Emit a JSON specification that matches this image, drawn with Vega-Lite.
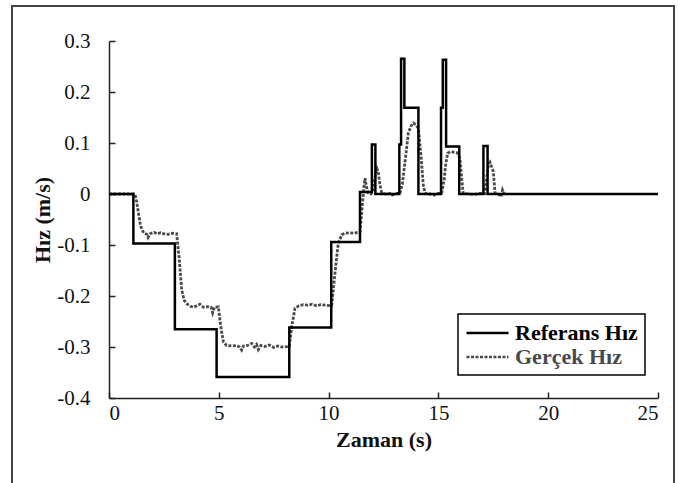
{
  "$schema": "https://vega.github.io/schema/vega-lite/v6.json",
  "width": 549,
  "height": 357,
  "autosize": {"type": "none"},
  "padding": {"left": 109, "top": 41, "right": 20, "bottom": 85},
  "background": "white",
  "config": {
    "view": {"stroke": null},
    "font": "Liberation Serif",
    "axis": {
      "grid": false,
      "domainColor": "#222",
      "domainWidth": 1.5,
      "tickColor": "#222",
      "tickWidth": 1.5,
      "tickSize": -6,
      "labelFont": "Liberation Serif",
      "labelFontSize": 21,
      "labelColor": "#111",
      "titleFont": "Liberation Serif",
      "titleFontSize": 22,
      "titleFontWeight": "bold",
      "titleColor": "#111"
    }
  },
  "data": {
    "values": [
      {"s": "Referans Hız", "i": 1, "t": 0, "v": 0},
      {"s": "Referans Hız", "i": 2, "t": 1.11, "v": 0},
      {"s": "Referans Hız", "i": 3, "t": 1.11, "v": -0.097},
      {"s": "Referans Hız", "i": 4, "t": 3.0, "v": -0.097},
      {"s": "Referans Hız", "i": 5, "t": 3.0, "v": -0.265},
      {"s": "Referans Hız", "i": 6, "t": 4.9, "v": -0.265},
      {"s": "Referans Hız", "i": 7, "t": 4.9, "v": -0.359},
      {"s": "Referans Hız", "i": 8, "t": 8.21, "v": -0.359},
      {"s": "Referans Hız", "i": 9, "t": 8.21, "v": -0.262},
      {"s": "Referans Hız", "i": 10, "t": 10.12, "v": -0.262},
      {"s": "Referans Hız", "i": 11, "t": 10.12, "v": -0.094},
      {"s": "Referans Hız", "i": 12, "t": 11.43, "v": -0.094},
      {"s": "Referans Hız", "i": 13, "t": 11.43, "v": 0.004},
      {"s": "Referans Hız", "i": 14, "t": 11.97, "v": 0.004},
      {"s": "Referans Hız", "i": 15, "t": 11.97, "v": 0.097},
      {"s": "Referans Hız", "i": 16, "t": 12.13, "v": 0.097},
      {"s": "Referans Hız", "i": 17, "t": 12.13, "v": 0},
      {"s": "Referans Hız", "i": 18, "t": 13.22, "v": 0},
      {"s": "Referans Hız", "i": 19, "t": 13.22, "v": 0.097},
      {"s": "Referans Hız", "i": 20, "t": 13.3, "v": 0.097},
      {"s": "Referans Hız", "i": 21, "t": 13.3, "v": 0.265},
      {"s": "Referans Hız", "i": 22, "t": 13.45, "v": 0.265},
      {"s": "Referans Hız", "i": 23, "t": 13.45, "v": 0.169},
      {"s": "Referans Hız", "i": 24, "t": 14.09, "v": 0.169},
      {"s": "Referans Hız", "i": 25, "t": 14.09, "v": 0},
      {"s": "Referans Hız", "i": 26, "t": 15.12, "v": 0},
      {"s": "Referans Hız", "i": 27, "t": 15.12, "v": 0.169},
      {"s": "Referans Hız", "i": 28, "t": 15.2, "v": 0.169},
      {"s": "Referans Hız", "i": 29, "t": 15.2, "v": 0.263},
      {"s": "Referans Hız", "i": 30, "t": 15.35, "v": 0.263},
      {"s": "Referans Hız", "i": 31, "t": 15.35, "v": 0.093},
      {"s": "Referans Hız", "i": 32, "t": 15.95, "v": 0.093},
      {"s": "Referans Hız", "i": 33, "t": 15.95, "v": 0},
      {"s": "Referans Hız", "i": 34, "t": 17.05, "v": 0},
      {"s": "Referans Hız", "i": 35, "t": 17.05, "v": 0.094},
      {"s": "Referans Hız", "i": 36, "t": 17.24, "v": 0.094},
      {"s": "Referans Hız", "i": 37, "t": 17.24, "v": 0},
      {"s": "Referans Hız", "i": 38, "t": 25, "v": 0},

      {"s": "Gerçek Hız", "i": 1, "t": 0, "v": 0},
      {"s": "Gerçek Hız", "i": 2, "t": 1.18, "v": 0},
      {"s": "Gerçek Hız", "i": 3, "t": 1.26, "v": -0.015},
      {"s": "Gerçek Hız", "i": 4, "t": 1.34, "v": -0.037},
      {"s": "Gerçek Hız", "i": 5, "t": 1.42, "v": -0.058},
      {"s": "Gerçek Hız", "i": 6, "t": 1.49, "v": -0.07},
      {"s": "Gerçek Hız", "i": 7, "t": 1.6, "v": -0.077},
      {"s": "Gerçek Hız", "i": 8, "t": 1.72, "v": -0.079},
      {"s": "Gerçek Hız", "i": 9, "t": 1.78, "v": -0.085},
      {"s": "Gerçek Hız", "i": 10, "t": 1.86, "v": -0.078},
      {"s": "Gerçek Hız", "i": 11, "t": 2.05, "v": -0.075},
      {"s": "Gerçek Hız", "i": 12, "t": 2.2, "v": -0.078},
      {"s": "Gerçek Hız", "i": 13, "t": 2.35, "v": -0.076},
      {"s": "Gerçek Hız", "i": 14, "t": 2.5, "v": -0.078},
      {"s": "Gerçek Hız", "i": 15, "t": 2.7, "v": -0.079},
      {"s": "Gerçek Hız", "i": 16, "t": 2.9, "v": -0.077},
      {"s": "Gerçek Hız", "i": 17, "t": 3.08, "v": -0.078},
      {"s": "Gerçek Hız", "i": 18, "t": 3.19, "v": -0.123},
      {"s": "Gerçek Hız", "i": 19, "t": 3.31, "v": -0.188},
      {"s": "Gerçek Hız", "i": 20, "t": 3.42, "v": -0.208},
      {"s": "Gerçek Hız", "i": 21, "t": 3.54, "v": -0.215},
      {"s": "Gerçek Hız", "i": 22, "t": 3.7, "v": -0.22},
      {"s": "Gerçek Hız", "i": 23, "t": 3.85, "v": -0.222},
      {"s": "Gerçek Hız", "i": 24, "t": 4.0, "v": -0.219},
      {"s": "Gerçek Hız", "i": 25, "t": 4.14, "v": -0.216},
      {"s": "Gerçek Hız", "i": 26, "t": 4.3, "v": -0.222},
      {"s": "Gerçek Hız", "i": 27, "t": 4.5, "v": -0.221},
      {"s": "Gerçek Hız", "i": 28, "t": 4.65, "v": -0.222},
      {"s": "Gerçek Hız", "i": 29, "t": 4.72, "v": -0.233},
      {"s": "Gerçek Hız", "i": 30, "t": 4.8, "v": -0.222},
      {"s": "Gerçek Hız", "i": 31, "t": 4.98, "v": -0.221},
      {"s": "Gerçek Hız", "i": 32, "t": 5.09, "v": -0.26},
      {"s": "Gerçek Hız", "i": 33, "t": 5.21, "v": -0.29},
      {"s": "Gerçek Hız", "i": 34, "t": 5.35, "v": -0.297},
      {"s": "Gerçek Hız", "i": 35, "t": 5.6, "v": -0.298},
      {"s": "Gerçek Hız", "i": 36, "t": 5.8, "v": -0.297},
      {"s": "Gerçek Hız", "i": 37, "t": 5.95, "v": -0.3},
      {"s": "Gerçek Hız", "i": 38, "t": 6.04, "v": -0.306},
      {"s": "Gerçek Hız", "i": 39, "t": 6.12, "v": -0.298},
      {"s": "Gerçek Hız", "i": 40, "t": 6.3, "v": -0.297},
      {"s": "Gerçek Hız", "i": 41, "t": 6.5, "v": -0.293},
      {"s": "Gerçek Hız", "i": 42, "t": 6.62, "v": -0.3},
      {"s": "Gerçek Hız", "i": 43, "t": 6.72, "v": -0.295},
      {"s": "Gerçek Hız", "i": 44, "t": 6.8, "v": -0.305},
      {"s": "Gerçek Hız", "i": 45, "t": 6.92, "v": -0.297},
      {"s": "Gerçek Hız", "i": 46, "t": 7.1, "v": -0.299},
      {"s": "Gerçek Hız", "i": 47, "t": 7.3, "v": -0.296},
      {"s": "Gerçek Hız", "i": 48, "t": 7.5, "v": -0.301},
      {"s": "Gerçek Hız", "i": 49, "t": 7.7, "v": -0.298},
      {"s": "Gerçek Hız", "i": 50, "t": 7.9, "v": -0.3},
      {"s": "Gerçek Hız", "i": 51, "t": 8.21, "v": -0.299},
      {"s": "Gerçek Hız", "i": 52, "t": 8.32, "v": -0.26},
      {"s": "Gerçek Hız", "i": 53, "t": 8.47, "v": -0.224},
      {"s": "Gerçek Hız", "i": 54, "t": 8.65, "v": -0.219},
      {"s": "Gerçek Hız", "i": 55, "t": 8.85, "v": -0.217},
      {"s": "Gerçek Hız", "i": 56, "t": 9.05, "v": -0.218},
      {"s": "Gerçek Hız", "i": 57, "t": 9.25, "v": -0.216},
      {"s": "Gerçek Hız", "i": 58, "t": 9.45, "v": -0.219},
      {"s": "Gerçek Hız", "i": 59, "t": 9.65, "v": -0.217},
      {"s": "Gerçek Hız", "i": 60, "t": 9.85, "v": -0.218},
      {"s": "Gerçek Hız", "i": 61, "t": 10.14, "v": -0.219},
      {"s": "Gerçek Hız", "i": 62, "t": 10.29, "v": -0.155},
      {"s": "Gerçek Hız", "i": 63, "t": 10.44, "v": -0.097},
      {"s": "Gerçek Hız", "i": 64, "t": 10.6, "v": -0.08},
      {"s": "Gerçek Hız", "i": 65, "t": 10.75, "v": -0.077},
      {"s": "Gerçek Hız", "i": 66, "t": 10.95, "v": -0.076},
      {"s": "Gerçek Hız", "i": 67, "t": 11.15, "v": -0.077},
      {"s": "Gerçek Hız", "i": 68, "t": 11.43, "v": -0.074},
      {"s": "Gerçek Hız", "i": 69, "t": 11.5, "v": -0.04},
      {"s": "Gerçek Hız", "i": 70, "t": 11.56, "v": -0.01},
      {"s": "Gerçek Hız", "i": 71, "t": 11.61, "v": 0.015},
      {"s": "Gerçek Hız", "i": 72, "t": 11.66, "v": 0.031},
      {"s": "Gerçek Hız", "i": 73, "t": 11.72, "v": 0.015},
      {"s": "Gerçek Hız", "i": 74, "t": 11.8, "v": 0.002},
      {"s": "Gerçek Hız", "i": 75, "t": 11.92, "v": 0},
      {"s": "Gerçek Hız", "i": 76, "t": 12.02, "v": 0.004},
      {"s": "Gerçek Hız", "i": 77, "t": 12.1, "v": 0.03},
      {"s": "Gerçek Hız", "i": 78, "t": 12.2, "v": 0.05},
      {"s": "Gerçek Hız", "i": 79, "t": 12.26, "v": 0.044},
      {"s": "Gerçek Hız", "i": 80, "t": 12.33, "v": 0.02},
      {"s": "Gerçek Hız", "i": 81, "t": 12.42, "v": 0.002},
      {"s": "Gerçek Hız", "i": 82, "t": 12.6, "v": 0},
      {"s": "Gerçek Hız", "i": 83, "t": 12.8, "v": 0.001},
      {"s": "Gerçek Hız", "i": 84, "t": 12.9, "v": -0.002},
      {"s": "Gerçek Hız", "i": 85, "t": 13.05, "v": 0.001},
      {"s": "Gerçek Hız", "i": 86, "t": 13.25, "v": 0.001},
      {"s": "Gerçek Hız", "i": 87, "t": 13.36, "v": 0.02},
      {"s": "Gerçek Hız", "i": 88, "t": 13.48, "v": 0.063},
      {"s": "Gerçek Hız", "i": 89, "t": 13.63, "v": 0.119},
      {"s": "Gerçek Hız", "i": 90, "t": 13.75, "v": 0.133},
      {"s": "Gerçek Hız", "i": 91, "t": 13.86, "v": 0.139},
      {"s": "Gerçek Hız", "i": 92, "t": 14.0, "v": 0.135},
      {"s": "Gerçek Hız", "i": 93, "t": 14.09, "v": 0.128},
      {"s": "Gerçek Hız", "i": 94, "t": 14.19, "v": 0.083},
      {"s": "Gerçek Hız", "i": 95, "t": 14.31, "v": 0.018},
      {"s": "Gerçek Hız", "i": 96, "t": 14.4, "v": 0.001},
      {"s": "Gerçek Hız", "i": 97, "t": 14.6, "v": 0},
      {"s": "Gerçek Hız", "i": 98, "t": 14.8, "v": -0.002},
      {"s": "Gerçek Hız", "i": 99, "t": 15.0, "v": 0.001},
      {"s": "Gerçek Hız", "i": 100, "t": 15.15, "v": 0.001},
      {"s": "Gerçek Hız", "i": 101, "t": 15.27, "v": 0.031},
      {"s": "Gerçek Hız", "i": 102, "t": 15.33, "v": 0.057},
      {"s": "Gerçek Hız", "i": 103, "t": 15.42, "v": 0.08},
      {"s": "Gerçek Hız", "i": 104, "t": 15.55, "v": 0.083},
      {"s": "Gerçek Hız", "i": 105, "t": 15.7, "v": 0.082},
      {"s": "Gerçek Hız", "i": 106, "t": 15.85, "v": 0.081},
      {"s": "Gerçek Hız", "i": 107, "t": 15.98, "v": 0.07},
      {"s": "Gerçek Hız", "i": 108, "t": 16.06, "v": 0.031},
      {"s": "Gerçek Hız", "i": 109, "t": 16.13, "v": 0.001},
      {"s": "Gerçek Hız", "i": 110, "t": 16.4, "v": 0},
      {"s": "Gerçek Hız", "i": 111, "t": 16.6, "v": -0.001},
      {"s": "Gerçek Hız", "i": 112, "t": 16.85, "v": 0.001},
      {"s": "Gerçek Hız", "i": 113, "t": 17.12, "v": 0.001},
      {"s": "Gerçek Hız", "i": 114, "t": 17.2, "v": 0.03},
      {"s": "Gerçek Hız", "i": 115, "t": 17.27, "v": 0.057},
      {"s": "Gerçek Hız", "i": 116, "t": 17.35, "v": 0.062},
      {"s": "Gerçek Hız", "i": 117, "t": 17.5, "v": 0.044},
      {"s": "Gerçek Hız", "i": 118, "t": 17.58, "v": 0.002},
      {"s": "Gerçek Hız", "i": 119, "t": 17.72, "v": 0},
      {"s": "Gerçek Hız", "i": 120, "t": 17.85, "v": -0.005},
      {"s": "Gerçek Hız", "i": 121, "t": 17.92, "v": 0.008},
      {"s": "Gerçek Hız", "i": 122, "t": 18.0, "v": 0}
    ]
  },
  "layer": [
    {
      "mark": {"type": "rect", "fill": null, "stroke": "#444", "strokeWidth": 1.5, "clip": false},
      "encoding": {
        "x": {"datum": -4.42, "type": "quantitative", "scale": {"domain": [0, 25], "nice": false}},
        "x2": {"datum": 25.73},
        "y": {"datum": 0.369, "type": "quantitative", "scale": {"domain": [-0.4, 0.3], "nice": false}},
        "y2": {"datum": -0.6}
      }
    },
    {
      "transform": [{"filter": "datum.s == 'Gerçek Hız'"}],
      "mark": {"type": "line", "strokeWidth": 2.8, "strokeCap": "butt"},
      "encoding": {
        "x": {"field": "t", "type": "quantitative"},
        "y": {"field": "v", "type": "quantitative"},
        "order": {"field": "i", "type": "quantitative"},
        "color": {"field": "s", "type": "nominal"},
        "strokeDash": {"field": "s", "type": "nominal"}
      }
    },
    {
      "transform": [{"filter": "datum.s == 'Referans Hız'"}],
      "mark": {"type": "line", "strokeWidth": 2.5, "strokeJoin": "miter"},
      "encoding": {
        "x": {
          "field": "t", "type": "quantitative",
          "scale": {"domain": [0, 25], "nice": false},
          "axis": {"title": "Zaman (s)", "values": [0, 5, 10, 15, 20, 25], "format": "d", "labelFont": "Liberation Serif", "labelPadding": 10, "titlePadding": 6}
        },
        "y": {
          "field": "v", "type": "quantitative",
          "scale": {"domain": [-0.4, 0.3], "nice": false},
          "axis": {
            "title": "Hız (m/s)",
            "values": [-0.4, -0.3, -0.2, -0.1, 0, 0.1, 0.2, 0.3],
            "labelExpr": "datum.value == 0 ? '0' : (datum.value < 0 ? '-' + format(-datum.value, '.1f') : format(datum.value, '.1f'))",
            "labelFont": "Liberation Serif",
            "labelPadding": 25,
            "titlePadding": 2
          }
        },
        "order": {"field": "i", "type": "quantitative"},
        "color": {
          "field": "s", "type": "nominal",
          "scale": {"domain": ["Referans Hız", "Gerçek Hız"], "range": ["#000000", "#4a4a4a"]},
          "legend": {
            "title": null,
            "orient": "none",
            "legendX": 349,
            "legendY": 273,
            "strokeColor": "#000",
            "fillColor": "white",
            "padding": 7,
            "symbolType": "M-1,0H3",
            "symbolSize": 441,
            "symbolStrokeWidth": 2.5,
            "symbolFillColor": "transparent",
            "labelFont": "Liberation Serif",
            "labelFontSize": 22,
            "labelFontWeight": "bold",
            "labelOffset": 26,
            "rowPadding": 1,
            "labelLimit": 300,
            "encode": {"labels": {"update": {"fill": {"signal": "datum.label == 'Gerçek Hız' ? '#4a4a4a' : '#000000'"}}}, "legend": {"update": {"strokeWidth": {"value": 1.5}}}}
          }
        },
        "strokeDash": {
          "field": "s", "type": "nominal",
          "scale": {"domain": ["Referans Hız", "Gerçek Hız"], "range": [[1, 0], [3, 1.5]]},
          "legend": null
        }
      }
    }
  ]
}
